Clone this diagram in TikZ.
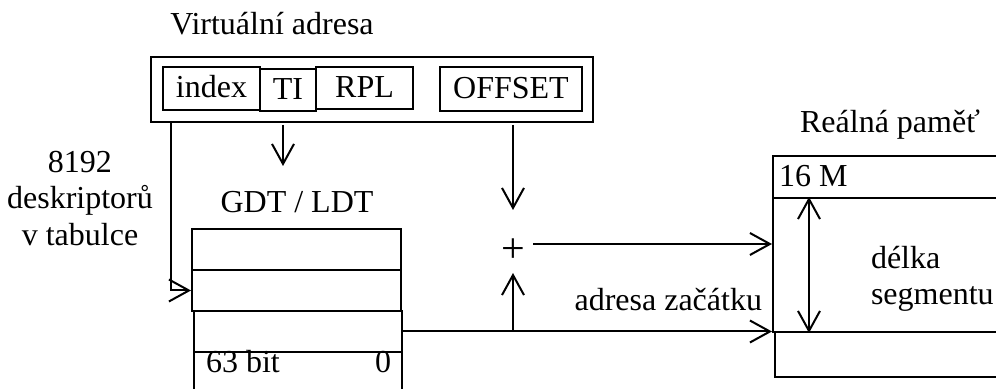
\documentclass[tikz,border=0pt]{standalone}
\usepackage{fontspec}
\setmainfont{Liberation Serif}
\usetikzlibrary{arrows.meta, positioning}

\begin{document}
\begin{tikzpicture}[x=0.5pt, y=-0.5pt, line width=1pt, >={Straight Barb[length=10pt, width=11pt]},
        pole/.style={rectangle, draw, inner sep=0pt, text height=12pt, text depth=2.5pt, font=\fontsize{16}{18.25}\selectfont},
        popis/.style={inner sep=0pt, align=center, font=\fontsize{16}{18.25}\selectfont}]
    \useasboundingbox (0,0) rectangle (996,389);
    \clip (0,0) rectangle (996,389);
    % virtualni adresa
    \node[popis, anchor=base] (va) at (272,35) {Virtuální adresa};
    \node[pole, minimum width=221pt, minimum height=32.5pt] (addr) at (372,89.5) {};
    \node[pole, minimum width=48.5pt, minimum height=21.5pt] (idx) at (211.5,88.5) {index};
    \node[pole, minimum width=28pt, minimum height=21pt] (ti) at (288,90) {TI};
    \node[pole, minimum width=48.5pt, minimum height=21pt] (rpl) at (364.5,88) {RPL};
    \node[pole, minimum width=71pt, minimum height=22pt] (off) at (511,89) {OFFSET};
    % tabulka deskriptoru
    \node[popis, anchor=north] (pocet) at (80,150) {8192\\deskriptorů\\v tabulce};
    \node[popis, anchor=base] (gdt) at (297,213) {GDT / LDT};
    \node[pole, minimum width=104.5pt, minimum height=20.5pt] (r1) at (296.5,249.5) {};
    \node[pole, minimum width=104.5pt, minimum height=20.5pt] (r2) at (296.5,290.5) {};
    \node[pole, minimum width=104pt, minimum height=20.5pt] (r3) at (298,331.5) {};
    \node[pole, minimum width=104pt, minimum height=24pt] (r4) at (298,376) {};
    \node[popis, anchor=base west] (bit) at (205,373) {63 bit};
    \node[popis, anchor=base east] (nula) at (392,373) {0};
    % realna pamet
    \node[popis, anchor=base] (rp) at (890,133) {Reálná paměť};
    \node[pole, minimum width=118.5pt, minimum height=21pt] (m1) at (891.5,177) {};
    \node[pole, minimum width=118.5pt, minimum height=67pt] (m2) at (891.5,265) {};
    \node[pole, minimum width=117.5pt, minimum height=22.5pt] (m3) at (892.5,354.5) {};
    \node[popis, anchor=base west] (mega) at (778,187) {16 M};
    \node[popis, align=left, anchor=north west] (delka) at (870,245) {délka\\segmentu};
    % soucet
    \node[popis, font=\fontsize{21}{24}\selectfont] (plus) at (513,251) {+};
    \node[popis, anchor=base east] (zac) at (763,311) {adresa začátku};
    \coordinate (iz) at (171,122);
    \coordinate (tiA) at (283,125);
    \coordinate (tiB) at (283,166);
    \coordinate (offA) at (513,125);
    \coordinate (offB) at (513,210);
    \coordinate (pl) at (533,244);
    \coordinate (upB) at (513,273);
    \coordinate (dl) at (809,0);
    \draw[->] (iz) |- (r2.west);
    \draw[->] (tiA) -- (tiB);
    \draw[->] (offA) -- (offB);
    \draw[->] (pl) -- (pl -| m2.west);
    \draw[->] (r3.east) -- (r3.east -| m2.west);
    \draw[->] (r3.east -| upB) -- (upB);
    \draw[<->] (m2.north -| dl) -- (m2.south -| dl);
\end{tikzpicture}
\end{document}
